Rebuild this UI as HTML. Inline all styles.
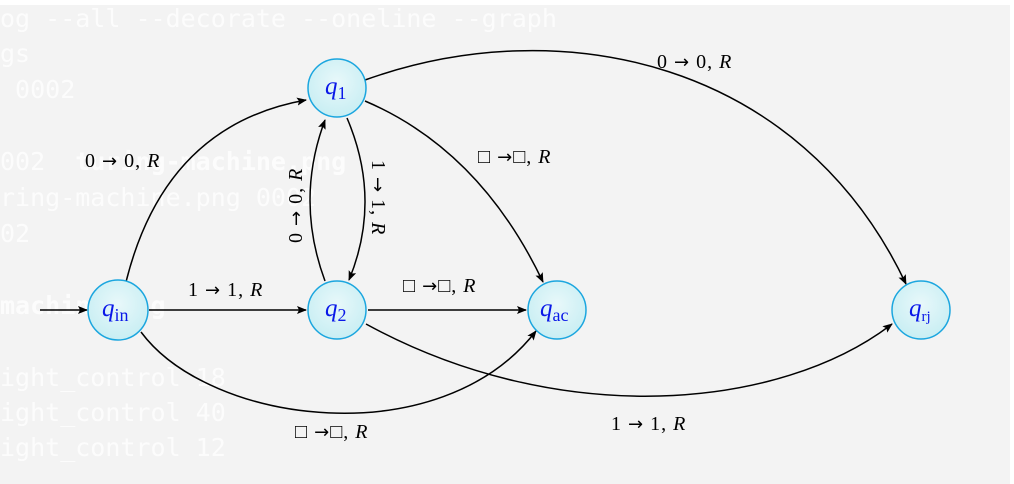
<!DOCTYPE html>
<html><head><meta charset="utf-8"><style>
html,body{margin:0;padding:0;width:1014px;height:484px;overflow:hidden;background:#fff}
#bg{position:absolute;left:0;top:5px;width:1010px;height:479px;background:#f3f3f3}
.t{position:absolute;left:0;font:25px "DejaVu Sans Mono",monospace;color:rgba(255,255,255,0.75);white-space:pre}
svg{position:absolute;left:0;top:0}
.ar{font-family:"DejaVu Sans",sans-serif;font-size:18px}
</style></head><body>
<div id="bg"></div>
<div class="t" style="top:4px">og --all --decorate --oneline --graph</div>
<div class="t" style="top:39px">gs</div>
<div class="t" style="top:75px"> 0002</div>
<div class="t" style="top:147px">002  <b>turing-machine.png</b></div>
<div class="t" style="top:183px">ring-machine.png 0002</div>
<div class="t" style="top:219px">02</div>
<div class="t" style="top:291px"><b>machine.png</b></div>
<div class="t" style="top:363px">ight_control 18</div>
<div class="t" style="top:398px">ight_control 40</div>
<div class="t" style="top:433px">ight_control 12</div>
<svg width="1014" height="484" viewBox="0 0 1014 484">
<defs>
<marker id="a" markerWidth="10" markerHeight="8" refX="9" refY="4" orient="auto" markerUnits="userSpaceOnUse"><path d="M0,0 L10,4 L0,8 L2,4z" fill="#000"/></marker>
<radialGradient id="g" cx="50%" cy="40%" r="60%"><stop offset="0" stop-color="#e8f8fa"/><stop offset="1" stop-color="#c8eef3"/></radialGradient>
</defs>
<g fill="none" stroke="#000" stroke-width="1.5" marker-end="url(#a)">
<path d="M40,310 L87,310"/>
<path d="M126,282 Q165,125 306,100"/>
<path d="M347,118 Q382,200 349,280"/>
<path d="M325,281 Q295,200 325,120"/>
<path d="M365,101 Q480,150 543,282"/>
<path d="M365,80 C560,10 800,60 906,284"/>
<path d="M149,310 L306,310"/>
<path d="M368,310 L526,310"/>
<path d="M366,324 C560,430 780,410 892,324"/>
<path d="M141,332 C210,425 440,455 536,331"/>
</g>
<g stroke="#1ba6df" stroke-width="1.5" fill="url(#g)">
<circle cx="118" cy="310" r="30"/>
<circle cx="337" cy="88" r="29"/>
<circle cx="337" cy="310" r="29"/>
<circle cx="557" cy="310" r="29"/>
<circle cx="921" cy="310" r="29"/>
</g>
<g font-family="Liberation Serif,serif" fill="#0a18e8" font-style="italic" font-size="25">
<text x="102" y="316">q<tspan font-style="normal" font-size="18" dy="5">in</tspan></text>
<text x="325" y="94">q<tspan font-style="normal" font-size="18" dy="5">1</tspan></text>
<text x="325" y="316">q<tspan font-style="normal" font-size="18" dy="5">2</tspan></text>
<text x="540" y="316">q<tspan font-style="normal" font-size="18" dy="5">ac</tspan></text>
<text x="909" y="316">q<tspan font-style="normal" font-size="15" dy="5">rj</tspan></text>
</g>
<g font-family="Liberation Serif,serif" fill="#000" font-size="20" letter-spacing="1">
<text x="85" y="167">0 <tspan class="ar">→</tspan> 0, <tspan font-style="italic">R</tspan></text>
<text x="657" y="68">0 <tspan class="ar">→</tspan> 0, <tspan font-style="italic">R</tspan></text>
<text x="478" y="163">□ <tspan class="ar">→</tspan>□, <tspan font-style="italic">R</tspan></text>
<text x="188" y="296">1 <tspan class="ar">→</tspan> 1, <tspan font-style="italic">R</tspan></text>
<text x="403" y="292">□ <tspan class="ar">→</tspan>□, <tspan font-style="italic">R</tspan></text>
<text x="295" y="438">□ <tspan class="ar">→</tspan>□, <tspan font-style="italic">R</tspan></text>
<text x="611" y="430">1 <tspan class="ar">→</tspan> 1, <tspan font-style="italic">R</tspan></text>
<text transform="translate(302,243) rotate(-90)">0 <tspan class="ar">→</tspan> 0, <tspan font-style="italic">R</tspan></text>
<text transform="translate(372,160) rotate(90)">1 <tspan class="ar">→</tspan> 1, <tspan font-style="italic">R</tspan></text>
</g>
</svg>
</body></html>
